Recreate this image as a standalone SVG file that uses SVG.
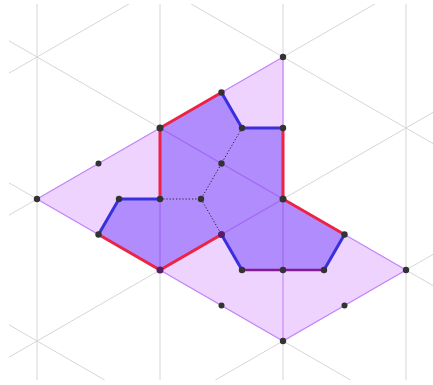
<svg xmlns="http://www.w3.org/2000/svg" width="433" height="385" viewBox="0 0 433 385">
<style>
.grid{stroke:#d6d6d6;stroke-width:1;fill:none}
.inner{stroke:#a266f4;stroke-width:1.2;fill:none}
.innerL{stroke:#c68af8;stroke-width:1.2;fill:none}
.red{stroke:#ee2244;stroke-width:3;fill:none;stroke-linecap:round}
.blue{stroke:#3a2fdd;stroke-width:3;fill:none;stroke-linecap:round}
.purp{stroke:#85198f;stroke-width:2.5;fill:none;stroke-linecap:round}
.dot{stroke:#222;stroke-width:1;stroke-dasharray:1.2 2;fill:none}
.pt{fill:#333333}
.ptp{fill:#5a1a66}
</style>
<defs>
<clipPath id="c"><rect x="9" y="4" width="424" height="376"/></clipPath>
</defs>
<g id="grid" class="grid" clip-path="url(#c)">
<line x1="37" y1="0" x2="37" y2="385"/>
<line x1="160" y1="0" x2="160" y2="385"/>
<line x1="283" y1="0" x2="283" y2="385"/>
<line x1="406" y1="0" x2="406" y2="385"/>
<line x1="0" y1="-106.4" x2="433" y2="143.6"/>
<line x1="0" y1="35.6" x2="433" y2="285.6"/>
<line x1="0" y1="177.6" x2="433" y2="427.6"/>
<line x1="0" y1="319.6" x2="433" y2="569.6"/>
<line x1="0" y1="78.4" x2="433" y2="-171.6"/>
<line x1="0" y1="220.4" x2="433" y2="-29.6"/>
<line x1="0" y1="362.4" x2="433" y2="112.4"/>
<line x1="0" y1="504.4" x2="433" y2="254.4"/>
</g>
<g id="region-light">
<polygon points="37,199 283,57 283,199 406,270 283,341" fill="#eed3ff" stroke="#c584f9" stroke-width="1.2"/>
</g>
<g id="region-dark">
<polygon points="160,128 221.5,92.5 242,128 283,128 283,199 344.5,234.5 324,270 283,270 242,270 221.5,234.5 160,270 98.5,234.5 119,199 160,199" fill="#b18cfd"/>
</g>
<g id="connectors">
<line class="inner" x1="160" y1="128" x2="283" y2="199"/>
<line class="inner" x1="160" y1="270" x2="283" y2="199"/>
<line class="inner" x1="160" y1="199" x2="160" y2="270"/>
<line class="inner" x1="283" y1="199" x2="283" y2="270"/>
<line class="innerL" x1="283" y1="270" x2="283" y2="341"/>
<polyline class="red" points="160,199 160,128 221.5,92.5"/>
<polyline class="blue" points="221.5,92.5 242,128 283,128"/>
<polyline class="red" points="283,128 283,199 344.5,234.5"/>
<polyline class="blue" points="344.5,234.5 324,270"/>
<polyline class="purp" points="324,270 242,270"/>
<polyline class="blue" points="242,270 221.5,234.5"/>
<polyline class="red" points="221.5,234.5 160,270 98.5,234.5"/>
<polyline class="blue" points="98.5,234.5 119,199 160,199"/>
<polyline class="dot" points="160,199 201,199 221.5,163.5 242,128"/>
<line class="dot" x1="201" y1="199" x2="221.5" y2="234.5"/>
</g>
<g id="points">
<circle class="pt" cx="283" cy="57" r="3.2"/>
<circle class="pt" cx="37" cy="199" r="3.2"/>
<circle class="pt" cx="406" cy="270" r="3.2"/>
<circle class="pt" cx="283" cy="341" r="3.2"/>
<circle class="pt" cx="98.5" cy="163.5" r="3"/>
<circle class="pt" cx="221.5" cy="305.5" r="3"/>
<circle class="pt" cx="344.5" cy="305.5" r="3"/>
<circle class="pt" cx="160" cy="128" r="3.5"/>
<circle class="pt" cx="221.5" cy="92.5" r="3.2"/>
<circle class="pt" cx="242" cy="128" r="3.2"/>
<circle class="pt" cx="283" cy="128" r="3.2"/>
<circle class="pt" cx="283" cy="199" r="3.5"/>
<circle class="pt" cx="344.5" cy="234.5" r="3.2"/>
<circle class="pt" cx="324" cy="270" r="3.2"/>
<circle class="pt" cx="283" cy="270" r="3.2"/>
<circle class="pt" cx="242" cy="270" r="3.2"/>
<circle class="ptp" cx="221.5" cy="234.5" r="3.5"/>
<circle class="ptp" cx="160" cy="270" r="3.5"/>
<circle class="pt" cx="98.5" cy="234.5" r="3.2"/>
<circle class="pt" cx="119" cy="199" r="3.2"/>
<circle class="pt" cx="160" cy="199" r="3.2"/>
<circle class="pt" cx="201" cy="199" r="3.2"/>
<circle class="pt" cx="221.5" cy="163.5" r="3.2"/>
</g>
</svg>
